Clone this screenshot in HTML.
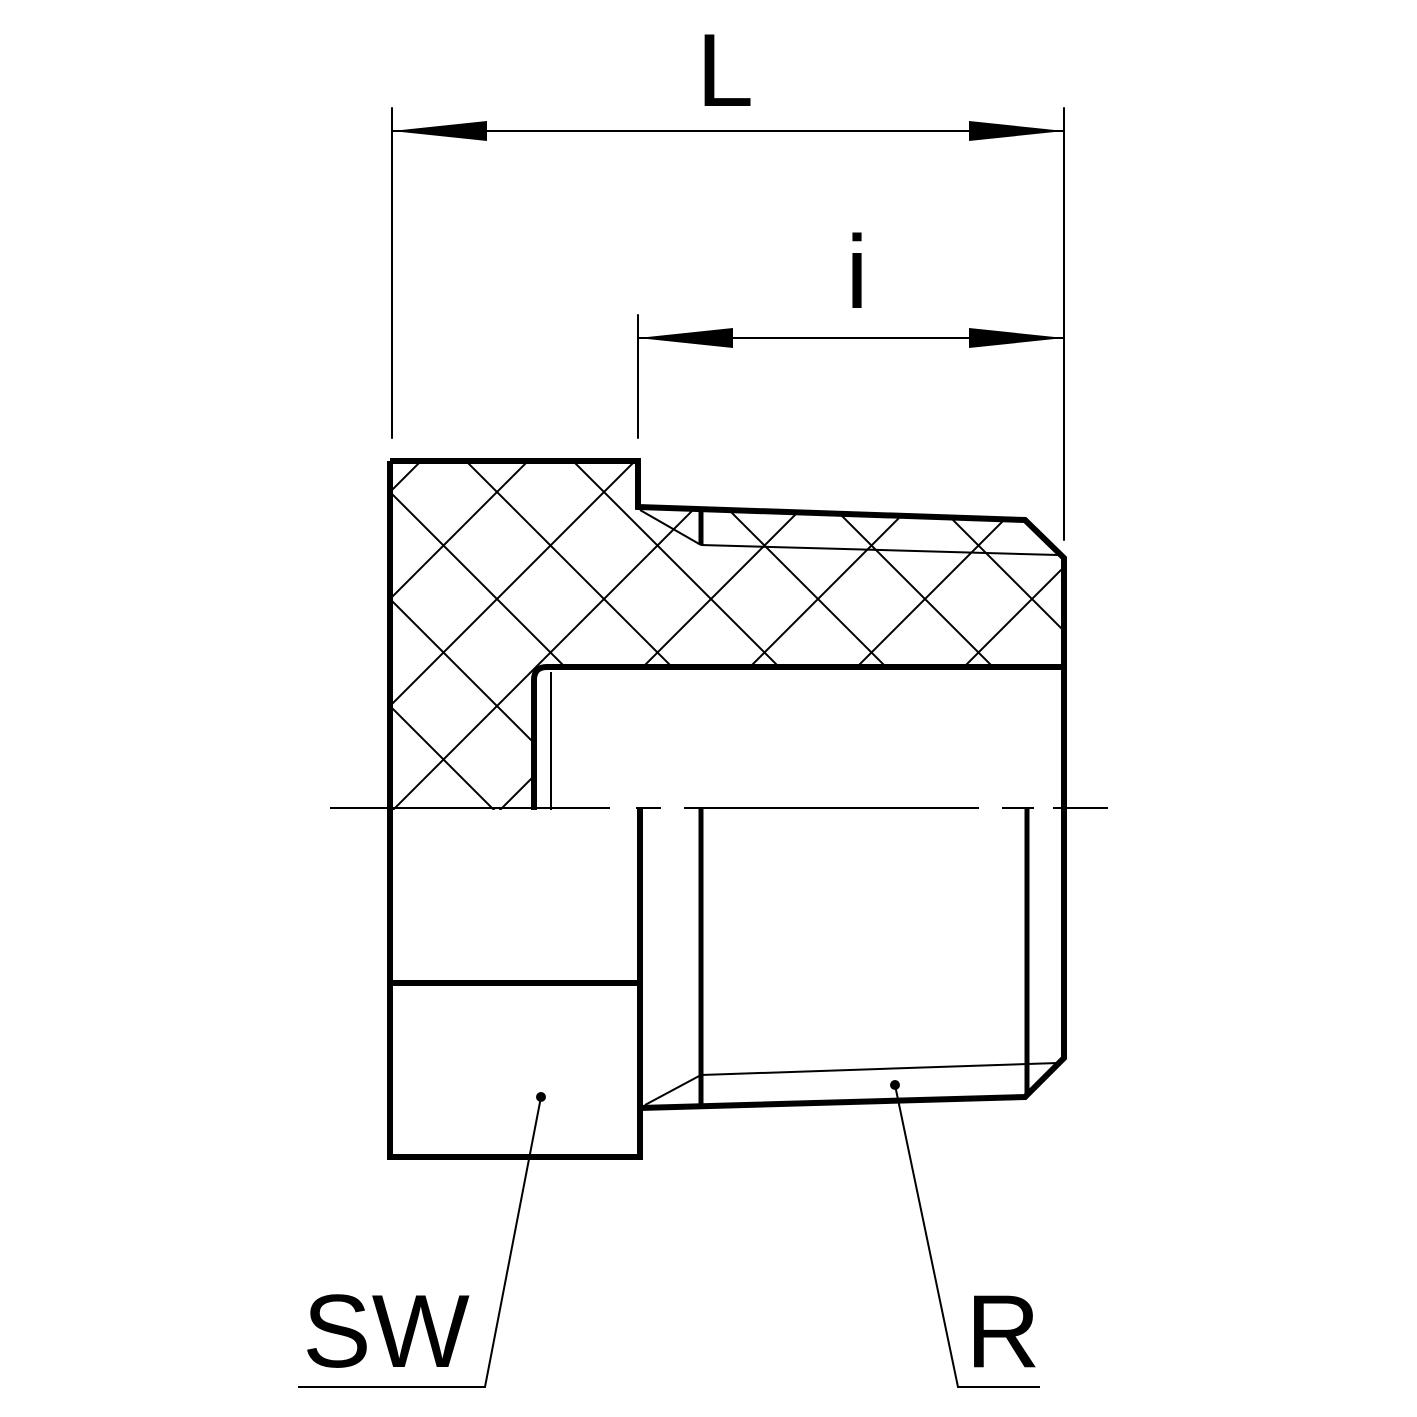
<!DOCTYPE html>
<html><head><meta charset="utf-8"><style>html,body{margin:0;padding:0;background:#fff}svg{display:block}</style></head>
<body>
<svg width="1417" height="1417" viewBox="0 0 1417 1417" xmlns="http://www.w3.org/2000/svg">
<defs>
<pattern id="h" patternUnits="userSpaceOnUse" x="69" y="64" width="107" height="107">
<path d="M0,0L107,107M107,0L0,107" stroke="#000" stroke-width="2" fill="none"/>
</pattern>
<clipPath id="c"><polygon points="390,461 638,461 638,507 1025,520 1064,558 1064,667 545,667 534,680 534,810 390,810"/></clipPath>
</defs>
<rect width="1417" height="1417" fill="#fff"/>
<polygon points="390,461 638,461 638,507 1025,520 1064,558 1064,667 545,667 534,680 534,810 390,810" fill="url(#h)"/>
<!-- white regions over hatch near thread -->
<g stroke="#000" fill="none" stroke-linecap="round">
<!-- dimension L -->
<line x1="392" y1="108" x2="392" y2="438" stroke-width="2"/>
<line x1="1064" y1="108" x2="1064" y2="540" stroke-width="2"/>
<line x1="392" y1="131" x2="1064" y2="131" stroke-width="2"/>
<line x1="638" y1="315" x2="638" y2="438" stroke-width="2"/>
<line x1="638" y1="338" x2="1064" y2="338" stroke-width="2"/>
</g>
<g fill="#000">
<polygon points="392,131 487,121 487,141"/>
<polygon points="1064,131 969,121 969,141"/>
<polygon points="638,338 733,328 733,348"/>
<polygon points="1064,338 969,328 969,348"/>
</g>
<g stroke="#000" fill="none" stroke-linejoin="miter">
<!-- outer thick -->
<polyline points="390,461 638,461 638,507 1025,520 1064,558 1064,1058 1025,1097 640,1108" stroke-width="6"/>
<polyline points="390,461 390,1157 640,1157 640,808" stroke-width="6"/>
<line x1="390" y1="983" x2="640" y2="983" stroke-width="6"/>
<line x1="545" y1="667" x2="1064" y2="667" stroke-width="6"/>
<path d="M534,810 L534,680 Q534,667 547,667" stroke-width="6"/>
<line x1="551" y1="672" x2="551" y2="810" stroke-width="2"/>
<line x1="701" y1="512" x2="701" y2="545" stroke-width="5"/>
<line x1="701" y1="808" x2="701" y2="1105" stroke-width="5"/>
<line x1="1027" y1="808" x2="1027" y2="1095" stroke-width="5"/>
<line x1="640" y1="510" x2="701" y2="545" stroke-width="2"/>
<line x1="701" y1="545" x2="1058" y2="555" stroke-width="2"/>
<line x1="645" y1="1105" x2="701" y2="1075" stroke-width="2"/>
<line x1="701" y1="1075" x2="1058" y2="1063" stroke-width="2"/>
<!-- centerline -->
<g stroke-width="2">
<line x1="330" y1="808" x2="610" y2="808"/>
<line x1="636" y1="808" x2="661" y2="808"/>
<line x1="684" y1="808" x2="979" y2="808"/>
<line x1="1002" y1="808" x2="1034" y2="808"/>
<line x1="1053" y1="808" x2="1108" y2="808"/>
</g>
<!-- leaders -->
<polyline points="541,1097 485,1387 298,1387" stroke-width="2"/>
<polyline points="895,1085 958,1387 1040,1387" stroke-width="2"/>
</g>
<circle cx="541" cy="1097" r="5" fill="#000"/>
<circle cx="895" cy="1085" r="5" fill="#000"/>
<g font-family="Liberation Sans, sans-serif" fill="#000">
<text x="725" y="106" font-size="104" text-anchor="middle">L</text>
<text x="857" y="308" font-size="104" text-anchor="middle">i</text>
<text x="386" y="1367" font-size="104" text-anchor="middle">SW</text>
<text x="1003" y="1367" font-size="104" text-anchor="middle">R</text>
</g>
</svg>
</body></html>
